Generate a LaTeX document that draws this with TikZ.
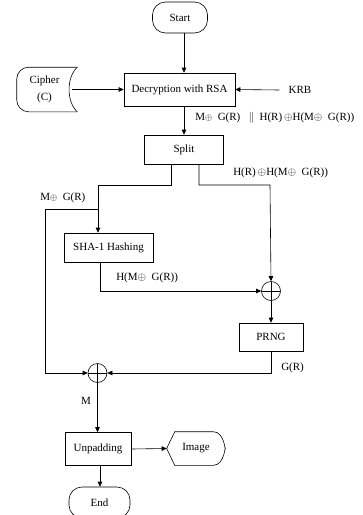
\documentclass[tikz,border=0pt]{standalone}
\usepackage{fontspec}
\setmainfont{Liberation Serif}
\usetikzlibrary{arrows.meta,calc}

\begin{document}
\begin{tikzpicture}[x=1pt, y=-1pt, line width=0.6pt,
    box/.style={draw, minimum height=29pt, inner sep=2pt, font=\fontsize{11}{13}\selectfont},
    term/.style={draw, rounded corners=13pt, minimum width=55pt, minimum height=31pt, font=\fontsize{11}{13}\selectfont},
    xorsym/.style={draw, circle, minimum size=19pt, inner sep=0pt,
        path picture={\draw (path picture bounding box.north) -- (path picture bounding box.south)
                            (path picture bounding box.west) -- (path picture bounding box.east);}},
    lbl/.style={font=\fontsize{11}{13}\selectfont, inner sep=0pt},
    >={Triangle[length=5pt, width=4.5pt]}]
    \useasboundingbox (0,0) rectangle (363,515);

    % Start and the RSA step
    \node[term] (start) at (180, 17.5) {Start};
    \node[box, minimum width=111pt, minimum height=33pt] (dec) at (179.5, 89.5) {Decryption with RSA};
    \node[box, minimum width=79pt] (split) at (184, 149.5) {Split};
    \draw[->] (start.south -| split) -- (dec.north -| split);

    % Cipher input (stored data)
    \node[minimum width=55pt, minimum height=44pt, inner sep=0pt, align=center,
          font=\fontsize{11}{17}\selectfont] (cipher) at (44.5, 89.5) {Cipher\\(C)};
    \draw[rounded corners=12pt] ([xshift=5]cipher.north east) -- (cipher.north west)
        -- (cipher.south west) -- ([xshift=5]cipher.south east);
    \draw ([xshift=5]cipher.north east) .. controls ([xshift=-6, yshift=-10]cipher.north east)
        and ([xshift=-6, yshift=10]cipher.south east) .. ([xshift=5]cipher.south east);
    \draw[->] (cipher.east) -- (dec.west);

    % Key input
    \node[font=\fontsize{11}{13}\selectfont, inner sep=0pt] (krb) at (300, 90) {KRB};
    \draw[->] ([xshift=-9]krb.west) -- (dec.east);

    % Decrypted block into split
    \draw[->] (dec.south -| split) -- (split.north);
    \node[lbl, anchor=west] (lblsplit) at (195, 118)
        {M{\small$\oplus$}\ \ G(R)\ \ \ $\|$\ \ H(R)\,$\oplus$H(M$\oplus$\ \ G(R))};

    % Hashing branch
    \node[box, minimum width=89pt] (sha) at (108.5, 247.5) {SHA-1 Hashing};
    \coordinate (fork) at (98, 209);
    \draw[->] ([xshift=-13]split.south) |- (98, 185) -- (sha.north -| fork);
    \node[lbl, anchor=west] (lblmask) at (40, 198) {M{\small$\oplus$}\ \ G(R)};
    \node[lbl, anchor=west] (lblseed) at (233, 173) {H(R)\,$\oplus$H(M$\oplus$\ \ G(R))};

    % First XOR and PRNG
    \node[xorsym] (xor1) at (271, 291) {};
    \node[box, minimum width=64pt, minimum height=28pt] (prng) at (271, 337) {PRNG};
    \draw[->] ([xshift=15]split.south) |- (270, 185) -- (xor1.north);
    \draw[->] ([xshift=-8]sha.south) |- (xor1.west);
    \node[lbl, anchor=west] (lblhash) at (116, 278) {H(M$\oplus$\ \ G(R))};
    \draw[->] (xor1.south) -- (prng.north);

    % Second XOR
    \node[xorsym] (xor2) at (97.5, 373) {};
    \draw[->] (fork) -| (45, 373) -- (xor2.west);
    \draw[->] (prng.south) |- (xor2.east);
    \node[lbl, anchor=west] (lblgr) at (281, 368) {G(R)};
    \node[lbl] (lblm) at (86, 401) {M};

    % Unpadding and output
    \node[box, minimum width=66pt, minimum height=33pt] (unpad) at (98, 449) {Unpadding};
    \draw[->] (xor2.south) -- (unpad.north -| xor2);
    \node[minimum width=58pt, minimum height=33pt, inner sep=0pt,
          font=\fontsize{11}{13}\selectfont] (image) at (196, 448.5) {Image};
    \draw (image.west) -- ([xshift=8]image.north west) -- ([xshift=-12]image.north east)
        .. controls (image.north east) and ([yshift=-6]image.east) .. (image.east)
        .. controls ([yshift=6]image.east) and (image.south east) .. ([xshift=-12]image.south east)
        -- ([xshift=8]image.south west) -- cycle;
    \draw[->] (unpad.east) -- (image.west);

    % End
    \node[term, minimum width=61pt] (endn) at (99.5, 502.5) {End};
    \draw[->] ([xshift=2]unpad.south) -- ([xshift=0.5]endn.north);

\end{tikzpicture}
\end{document}
